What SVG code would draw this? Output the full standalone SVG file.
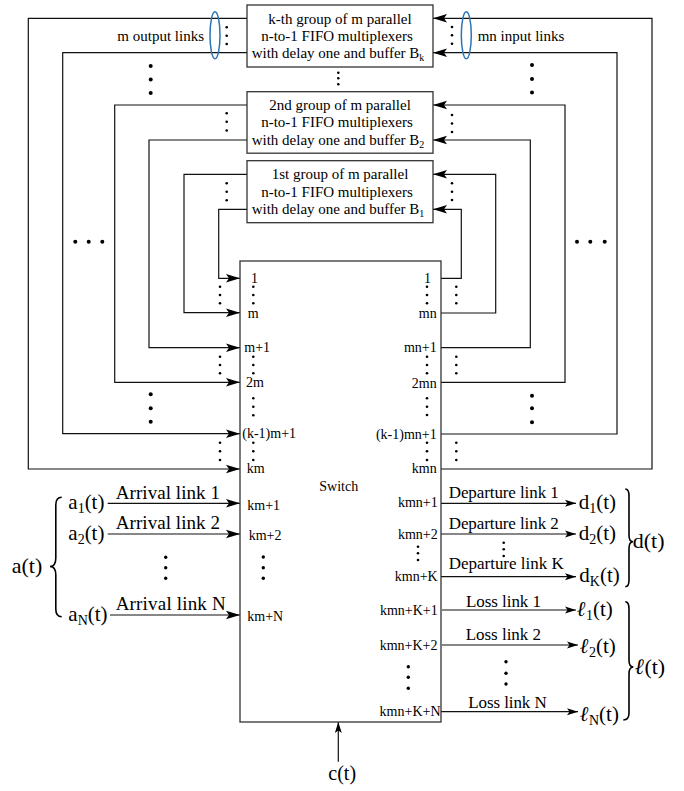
<svg xmlns="http://www.w3.org/2000/svg" width="684" height="791" viewBox="0 0 684 791">
<style>
text{font-family:"Liberation Serif","Times New Roman",serif;fill:#000}
.box{fill:#fff;stroke:#333;stroke-width:1.3}
.ln{fill:none;stroke:#111;stroke-width:1.2}
.bt{font-size:15px;text-anchor:middle}
.pl{font-size:14px}
.pr{font-size:14px;text-anchor:end}
.al{font-size:19px}
.dl{font-size:17px}
.mt{font-size:21px}
.sd{fill:#000}
.bd{fill:#000}
.brace{fill:none;stroke:#000;stroke-width:1.6}
.ell{fill:none;stroke:#2E75B6;stroke-width:1.5}
</style>
<defs>
<marker id="ah" markerWidth="14" markerHeight="10" refX="14" refY="5" orient="auto" markerUnits="userSpaceOnUse"><path d="M0,0.8 L14,5 L0,9.2 L3,5 z" fill="#000"/></marker>
<marker id="as" markerWidth="11" markerHeight="8" refX="11" refY="4" orient="auto" markerUnits="userSpaceOnUse"><path d="M0,0.5 L11,4 L0,7.5 L2.5,4 z" fill="#000"/></marker>
</defs>
<rect width="684" height="791" fill="#fff"/>

<g id="connectors">
<polyline class="ln" points="247,18.3 28.3,18.3 28.3,469 240,469" marker-end="url(#ah)"/>
<polyline class="ln" points="247,52.7 62.7,52.7 62.7,433.7 240,433.7" marker-end="url(#ah)"/>
<polyline class="ln" points="247,105 114.7,105 114.7,382.3 240,382.3" marker-end="url(#ah)"/>
<polyline class="ln" points="247,140 149,140 149,347.7 240,347.7" marker-end="url(#ah)"/>
<polyline class="ln" points="247,174.3 184,174.3 184,312.7 240,312.7" marker-end="url(#ah)"/>
<polyline class="ln" points="247,209.3 218.7,209.3 218.7,278.3 240,278.3" marker-end="url(#ah)"/>
<polyline class="ln" points="441,469 652,469 652,18.3 433,18.3" marker-end="url(#ah)"/>
<polyline class="ln" points="441,434 617,434 617,52.7 433,52.7" marker-end="url(#ah)"/>
<polyline class="ln" points="441,382.3 565,382.3 565,105 433,105" marker-end="url(#ah)"/>
<polyline class="ln" points="441,347.7 530.3,347.7 530.3,140 433,140" marker-end="url(#ah)"/>
<polyline class="ln" points="441,313 495.7,313 495.7,174.3 433,174.3" marker-end="url(#ah)"/>
<polyline class="ln" points="441,278.3 461.3,278.3 461.3,209.3 433,209.3" marker-end="url(#ah)"/>
<line class="ln" x1="107.7" y1="503.3" x2="240" y2="503.3" marker-end="url(#ah)"/>
<line class="ln" x1="107.7" y1="534" x2="240" y2="534" marker-end="url(#ah)"/>
<line class="ln" x1="110" y1="615" x2="240" y2="615" marker-end="url(#ah)"/>
<line class="ln" x1="441" y1="503.3" x2="576" y2="503.3" marker-end="url(#as)"/>
<line class="ln" x1="441" y1="534" x2="576" y2="534" marker-end="url(#as)"/>
<line class="ln" x1="441" y1="576.7" x2="576" y2="576.7" marker-end="url(#as)"/>
<line class="ln" x1="442" y1="610" x2="576" y2="610" marker-end="url(#as)"/>
<line class="ln" x1="442" y1="645" x2="578" y2="645" marker-end="url(#as)"/>
<line class="ln" x1="441" y1="711.7" x2="578" y2="711.7" marker-end="url(#as)"/>
<line class="ln" x1="338.3" y1="761.7" x2="338.3" y2="722" marker-end="url(#as)"/>
</g>

<g id="box-k">
<rect class="box" x="247" y="5" width="186" height="62"/>
<text class="bt" x="340" y="23.5">k-th group of m parallel</text>
<text class="bt" x="337" y="40.5">n-to-1 FIFO multiplexers</text>
<text class="bt" x="338" y="58">with delay one and buffer B<tspan font-size="10" dy="3">k</tspan></text>
</g>
<g id="box-2">
<rect class="box" x="247" y="91.7" width="186" height="61.5"/>
<text class="bt" x="340" y="109.5">2nd group of m parallel</text>
<text class="bt" x="337" y="127">n-to-1 FIFO multiplexers</text>
<text class="bt" x="338" y="144.5">with delay one and buffer B<tspan font-size="10" dy="3">2</tspan></text>
</g>
<g id="box-1">
<rect class="box" x="247" y="160.7" width="186" height="62"/>
<text class="bt" x="340" y="179">1st group of m parallel</text>
<text class="bt" x="337" y="196.5">n-to-1 FIFO multiplexers</text>
<text class="bt" x="338" y="214">with delay one and buffer B<tspan font-size="10" dy="3">1</tspan></text>
</g>

<g id="switch">
<rect class="box" x="240" y="261" width="201" height="461"/>
<text x="319.3" y="491" font-size="14">Switch</text>
<text class="pl" x="251" y="283">1</text>
<text class="pl" x="247.7" y="317.5">m</text>
<text class="pl" x="244.3" y="352">m+1</text>
<text class="pl" x="246" y="387">2m</text>
<text class="pl" x="242.3" y="438">(k-1)m+1</text>
<text class="pl" x="246.7" y="473">km</text>
<text class="pr" x="431" y="283">1</text>
<text class="pr" x="436.7" y="317.5">mn</text>
<text class="pr" x="436.7" y="352">mn+1</text>
<text class="pr" x="436.7" y="387.5">2mn</text>
<text class="pr" x="436.7" y="438.5">(k-1)mn+1</text>
<text class="pr" x="436.7" y="473">kmn</text>
<text class="pl" x="247.3" y="509.5">km+1</text>
<text class="pl" x="248.7" y="539.5">km+2</text>
<text class="pl" x="247.3" y="620.5">km+N</text>
<text class="pr" x="437.7" y="507">kmn+1</text>
<text class="pr" x="437.7" y="538.5">kmn+2</text>
<text class="pr" x="437.7" y="580.5">kmn+K</text>
<text class="pr" x="437.7" y="614.5">kmn+K+1</text>
<text class="pr" x="437.5" y="649.5">kmn+K+2</text>
<text class="pr" x="440.5" y="715.5">kmn+K+N</text>
</g>

<g id="labels">
<text x="117.3" y="41" font-size="15">m output links</text>
<text x="477.7" y="41" font-size="15">mn input links</text>
<ellipse class="ell" cx="215" cy="35.3" rx="5" ry="23.5"/>
<ellipse class="ell" cx="466.3" cy="35.3" rx="5" ry="23.5"/>
<text class="al" x="115.7" y="499.3" textLength="104.3">Arrival link 1</text>
<text class="al" x="115.7" y="529.3" textLength="104.3">Arrival link 2</text>
<text class="al" x="115.7" y="610.3" textLength="110">Arrival link N</text>
<text class="dl" x="448.7" y="498.3" textLength="110">Departure link 1</text>
<text class="dl" x="448.7" y="529.3" textLength="110">Departure link 2</text>
<text class="dl" x="448.7" y="569.3" textLength="115">Departure link K</text>
<text class="dl" x="466" y="606.7" textLength="75">Loss link 1</text>
<text class="dl" x="465.7" y="640" textLength="75.3">Loss link 2</text>
<text class="dl" x="468.3" y="708.3" textLength="78.4">Loss link N</text>
<text class="mt" x="68.3" y="509">a<tspan font-size="14" dy="4">1</tspan><tspan dy="-4">(t)</tspan></text>
<text class="mt" x="68.3" y="539.5">a<tspan font-size="14" dy="4">2</tspan><tspan dy="-4">(t)</tspan></text>
<text class="mt" x="68.3" y="620.5">a<tspan font-size="14" dy="4">N</tspan><tspan dy="-4">(t)</tspan></text>
<text x="11.7" y="573" font-size="22">a(t)</text>
<text class="mt" x="578.7" y="509">d<tspan font-size="14" dy="4">1</tspan><tspan dy="-4">(t)</tspan></text>
<text class="mt" x="578.7" y="540">d<tspan font-size="14" dy="4">2</tspan><tspan dy="-4">(t)</tspan></text>
<text class="mt" x="579.3" y="582">d<tspan font-size="14" dy="4">K</tspan><tspan dy="-4">(t)</tspan></text>
<text x="632.7" y="548" font-size="22">d(t)</text>
<text class="mt" x="577" y="616"><tspan font-style="italic" font-weight="bold">ℓ</tspan><tspan font-size="14" dy="4">1</tspan><tspan dy="-4">(t)</tspan></text>
<text class="mt" x="580" y="653"><tspan font-style="italic" font-weight="bold">ℓ</tspan><tspan font-size="14" dy="4">2</tspan><tspan dy="-4">(t)</tspan></text>
<text class="mt" x="580" y="720.5"><tspan font-style="italic" font-weight="bold">ℓ</tspan><tspan font-size="14" dy="4">N</tspan><tspan dy="-4">(t)</tspan></text>
<text x="635" y="674" font-size="22"><tspan font-style="italic" font-weight="bold">ℓ</tspan>(t)</text>
<text x="328.3" y="780" font-size="20">c(t)</text>
<path class="brace" d="M61.7,497.3 Q55.8,497.3 55.8,505 L55.8,558 Q55.8,566.5 50,566.5 Q55.8,566.5 55.8,575 L55.8,609 Q55.8,616.7 61.7,616.7"/>
<path class="brace" d="M625.3,489 Q629,489 629,496 L629,535 Q629,541.7 633,541.7 Q629,541.7 629,548.5 L629,580 Q629,586.7 625.3,586.7"/>
<path class="brace" d="M625.3,601.7 Q629,601.7 629,609 L629,660 Q629,667 633.3,667 Q629,667 629,674 L629,713 Q629,720 623.3,720"/>
</g>

<g id="dots">
<g class="sd">
<circle cx="226.7" cy="27.3" r="1.3"/><circle cx="226.7" cy="35.7" r="1.3"/><circle cx="226.7" cy="44" r="1.3"/>
<circle cx="452" cy="27" r="1.3"/><circle cx="452" cy="35.3" r="1.3"/><circle cx="452" cy="43.7" r="1.3"/>
<circle cx="338.3" cy="72.7" r="1.3"/><circle cx="338.3" cy="78.3" r="1.3"/><circle cx="338.3" cy="84.3" r="1.3"/>
<circle cx="226.7" cy="113.3" r="1.3"/><circle cx="226.7" cy="121.7" r="1.3"/><circle cx="226.7" cy="130.5" r="1.3"/>
<circle cx="452" cy="115" r="1.3"/><circle cx="452" cy="123.5" r="1.3"/><circle cx="452" cy="132" r="1.3"/>
<circle cx="226.7" cy="183.3" r="1.3"/><circle cx="226.7" cy="191.7" r="1.3"/><circle cx="226.7" cy="200.3" r="1.3"/>
<circle cx="452" cy="183.3" r="1.3"/><circle cx="452" cy="191.7" r="1.3"/><circle cx="452" cy="200" r="1.3"/>
<circle cx="220" cy="286.7" r="1.3"/><circle cx="220" cy="295" r="1.3"/><circle cx="220" cy="303.3" r="1.3"/>
<circle cx="220" cy="356.7" r="1.3"/><circle cx="220" cy="365" r="1.3"/><circle cx="220" cy="373.3" r="1.3"/>
<circle cx="220" cy="442.7" r="1.3"/><circle cx="220" cy="451.3" r="1.3"/><circle cx="220" cy="460" r="1.3"/>
<circle cx="253.3" cy="286.7" r="1.3"/><circle cx="253.3" cy="295" r="1.3"/><circle cx="253.3" cy="303.3" r="1.3"/>
<circle cx="253.3" cy="356.7" r="1.3"/><circle cx="253.3" cy="365" r="1.3"/><circle cx="253.3" cy="373.3" r="1.3"/>
<circle cx="253.3" cy="398.3" r="1.3"/><circle cx="253.3" cy="406.7" r="1.3"/><circle cx="253.3" cy="415.3" r="1.3"/>
<circle cx="253.3" cy="442.7" r="1.3"/><circle cx="253.3" cy="451.3" r="1.3"/><circle cx="253.3" cy="460" r="1.3"/>
<circle cx="427" cy="286.7" r="1.3"/><circle cx="427" cy="295" r="1.3"/><circle cx="427" cy="303.3" r="1.3"/>
<circle cx="427" cy="356.7" r="1.3"/><circle cx="427" cy="365" r="1.3"/><circle cx="427" cy="373.3" r="1.3"/>
<circle cx="427" cy="398.3" r="1.3"/><circle cx="427" cy="406.7" r="1.3"/><circle cx="427" cy="415" r="1.3"/>
<circle cx="427" cy="442.7" r="1.3"/><circle cx="427" cy="451.3" r="1.3"/><circle cx="427" cy="460" r="1.3"/>
<circle cx="456.3" cy="286.7" r="1.3"/><circle cx="456.3" cy="295" r="1.3"/><circle cx="456.3" cy="303.3" r="1.3"/>
<circle cx="456.3" cy="356.7" r="1.3"/><circle cx="456.3" cy="365" r="1.3"/><circle cx="456.3" cy="373.3" r="1.3"/>
<circle cx="456.3" cy="442.7" r="1.3"/><circle cx="456.3" cy="451.3" r="1.3"/><circle cx="456.3" cy="460" r="1.3"/>
<circle cx="503.7" cy="542.7" r="1.3"/><circle cx="503.7" cy="549.3" r="1.3"/><circle cx="503.7" cy="556" r="1.3"/>
<circle cx="418" cy="546.7" r="1.3"/><circle cx="418" cy="553.3" r="1.3"/><circle cx="418" cy="560" r="1.3"/>
</g>
<g class="bd">
<circle cx="150.7" cy="66" r="2"/><circle cx="150.7" cy="79.5" r="2"/><circle cx="150.7" cy="93" r="2"/>
<circle cx="532" cy="65" r="2"/><circle cx="532" cy="79" r="2"/><circle cx="532" cy="92.5" r="2"/>
<circle cx="150.7" cy="394.3" r="2"/><circle cx="150.7" cy="408.3" r="2"/><circle cx="150.7" cy="421.7" r="2"/>
<circle cx="532" cy="395.7" r="2"/><circle cx="532" cy="408.3" r="2"/><circle cx="532" cy="422.3" r="2"/>
<circle cx="75.3" cy="241.7" r="2"/><circle cx="88.7" cy="241.7" r="2"/><circle cx="102.3" cy="241.7" r="2"/>
<circle cx="577" cy="241.7" r="2"/><circle cx="590.3" cy="241.7" r="2"/><circle cx="604.7" cy="241.7" r="2"/>
<circle cx="165.7" cy="557.3" r="1.7"/><circle cx="165.7" cy="567.7" r="1.7"/><circle cx="165.7" cy="578.3" r="1.7"/>
<circle cx="263.3" cy="557" r="1.7"/><circle cx="263.3" cy="567.7" r="1.7"/><circle cx="263.3" cy="578.3" r="1.7"/>
<circle cx="506" cy="661.7" r="1.7"/><circle cx="506" cy="673.3" r="1.7"/><circle cx="506" cy="684" r="1.7"/>
<circle cx="408.3" cy="666.7" r="1.7"/><circle cx="408.3" cy="677.3" r="1.7"/><circle cx="408.3" cy="688.3" r="1.7"/>
</g>
</g>
</svg>
